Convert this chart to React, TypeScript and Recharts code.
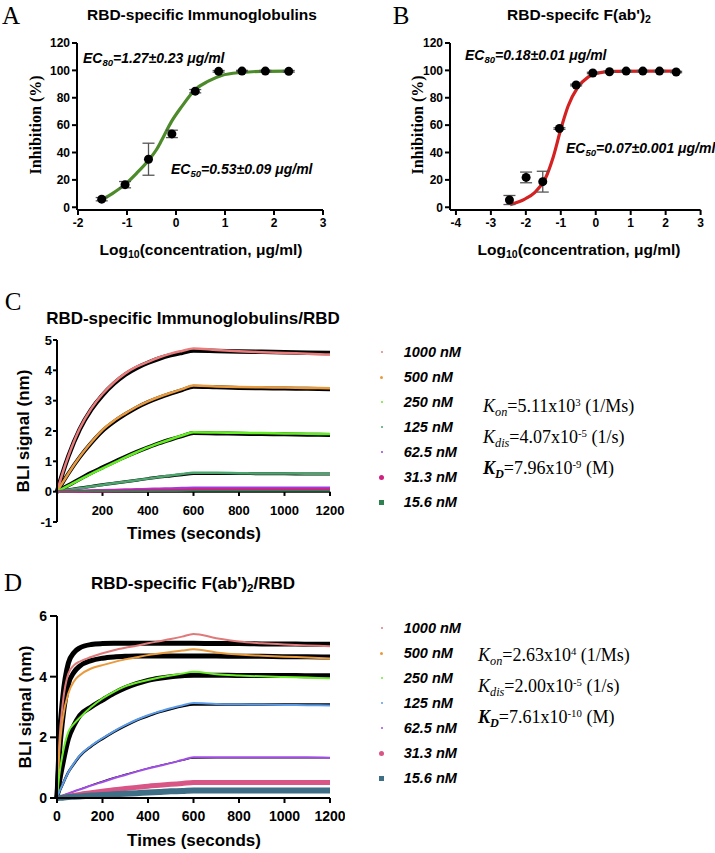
import React from 'react';
import { ComposedChart, LineChart, Line, Scatter, XAxis, YAxis, ErrorBar, ReferenceLine } from 'recharts';

const SANS = 'Arial, "Liberation Sans", Helvetica, sans-serif';
const SERIF = '"Times New Roman", "Liberation Serif", serif';

// ---------- Panel A: RBD-specific Immunoglobulins ----------
const logConcA = [-1.516, -1.039, -0.561, -0.084, 0.393, 0.87, 1.347, 1.824, 2.301];
const inhibA = [5.9, 16.5, 35.1, 53.6, 84.8, 99.3, 99.5, 99.5, 99.3];
const errA = [1.2, 2.3, 11.7, 2.7, 1.2, 0.6, 0.5, 0.5, 0.6];
const fitXA = [-1.52, -1.3, -1.04, -0.8, -0.56, -0.4, -0.29, -0.09, 0.12, 0.39, 0.66, 0.93, 1.34, 1.75, 2.3];
const fitYA = [5.4, 10.0, 16.7, 25.0, 34.4, 42.0, 49.1, 62.7, 73.7, 86.0, 92.1, 96.3, 98.5, 99.3, 99.5];

// ---------- Panel B: RBD-specific F(ab')2 ----------
const logConcB = [-2.469, -1.993, -1.516, -1.039, -0.561, -0.084, 0.393, 0.87, 1.347, 1.824, 2.301];
const inhibB = [5.3, 21.8, 18.7, 57.5, 89.3, 98.1, 99.0, 99.5, 99.5, 99.5, 98.8];
const errB = [3.3, 3.9, 7.6, 0.6, 0.6, 0.5, 0.4, 0.4, 0.4, 0.4, 0.5];
const fitXB = [-2.45, -2.2, -2.03, -1.74, -1.45, -1.22, -1.0, -0.79, -0.52, -0.22, 0.0, 0.55, 1.5, 2.3];
const fitYB = [1.9, 4.0, 6.0, 10.9, 20.6, 36.4, 57.0, 74.0, 87.4, 95.1, 97.8, 99.3, 99.5, 99.5];

const xTicksA = [-2, -1, 0, 1, 2, 3];
const xTicksB = [-4, -3, -2, -1, 0, 1, 2, 3];
const yTicksInhib = [0, 20, 40, 60, 80, 100, 120];

// ---------- Panel C: BLI, Immunoglobulins/RBD ----------
const timesC = [0, 25, 50, 100, 150, 200, 250, 300, 350, 400, 450, 500, 550, 600, 700, 800, 900, 1000, 1100, 1200];
const C1000 = [0, 0.62, 1.17, 2.08, 2.73, 3.22, 3.6, 3.9, 4.12, 4.28, 4.43, 4.55, 4.64, 4.72, 4.67, 4.63, 4.6, 4.57, 4.55, 4.52];
const C1000fit = [0, 0.62, 1.17, 2.06, 2.7, 3.18, 3.56, 3.86, 4.08, 4.25, 4.39, 4.5, 4.58, 4.65, 4.64, 4.62, 4.61, 4.6, 4.58, 4.57];
const C500 = [0, 0.3, 0.6, 1.15, 1.62, 2.04, 2.34, 2.58, 2.8, 2.98, 3.13, 3.26, 3.38, 3.5, 3.47, 3.45, 3.44, 3.43, 3.42, 3.41];
const C500fit = [0, 0.3, 0.6, 1.14, 1.6, 2.0, 2.3, 2.55, 2.77, 2.95, 3.1, 3.23, 3.35, 3.46, 3.44, 3.42, 3.41, 3.4, 3.39, 3.38];
const C250 = [0, 0.1, 0.2, 0.4, 0.59, 0.77, 0.95, 1.13, 1.3, 1.46, 1.6, 1.73, 1.85, 1.96, 1.95, 1.94, 1.93, 1.92, 1.91, 1.9];
const C250fit = [0, 0.11, 0.21, 0.42, 0.62, 0.8, 0.98, 1.15, 1.31, 1.46, 1.6, 1.72, 1.83, 1.93, 1.92, 1.91, 1.9, 1.89, 1.88, 1.87];
const C125 = [0, 0.03, 0.06, 0.11, 0.17, 0.22, 0.28, 0.33, 0.38, 0.43, 0.48, 0.53, 0.58, 0.62, 0.62, 0.61, 0.6, 0.6, 0.59, 0.59];
const C125fit = [0, 0.03, 0.06, 0.12, 0.17, 0.23, 0.28, 0.33, 0.38, 0.43, 0.48, 0.52, 0.56, 0.6, 0.6, 0.6, 0.59, 0.59, 0.58, 0.58];
const C62 = [0, 0.01, 0.01, 0.02, 0.03, 0.04, 0.05, 0.06, 0.07, 0.08, 0.09, 0.1, 0.11, 0.12, 0.12, 0.12, 0.12, 0.12, 0.12, 0.12];
const C31 = [0, 0.005, 0.01, 0.01, 0.02, 0.02, 0.03, 0.03, 0.04, 0.04, 0.05, 0.05, 0.05, 0.06, 0.06, 0.06, 0.06, 0.06, 0.06, 0.06];
const C15 = [0, 0, 0, 0.01, 0.01, 0.01, 0.01, 0.02, 0.02, 0.02, 0.02, 0.02, 0.03, 0.03, 0.03, 0.03, 0.03, 0.03, 0.03, 0.03];

// ---------- Panel D: BLI, F(ab')2/RBD ----------
const timesD = [0, 10, 25, 50, 75, 100, 150, 200, 250, 300, 350, 400, 450, 500, 550, 600, 700, 800, 900, 1000, 1100, 1200];
const D1000 = [0, 1.8, 3.1, 4.1, 4.38, 4.5, 4.65, 4.77, 4.87, 4.95, 5.02, 5.1, 5.17, 5.24, 5.32, 5.41, 5.27, 5.16, 5.1, 5.06, 5.03, 5.0];
const D1000fit = [0, 1.9, 3.3, 4.45, 4.8, 4.95, 5.06, 5.09, 5.1, 5.1, 5.1, 5.1, 5.1, 5.1, 5.1, 5.1, 5.09, 5.09, 5.08, 5.08, 5.07, 5.07];
const D500 = [0, 1.5, 2.6, 3.45, 3.85, 4.05, 4.27, 4.38, 4.48, 4.57, 4.64, 4.71, 4.76, 4.81, 4.86, 4.9, 4.8, 4.73, 4.69, 4.66, 4.63, 4.6];
const D500fit = [0, 1.4, 2.6, 3.75, 4.15, 4.35, 4.53, 4.61, 4.65, 4.67, 4.68, 4.68, 4.68, 4.68, 4.68, 4.68, 4.68, 4.67, 4.67, 4.66, 4.66, 4.65];
const D250 = [0, 0.75, 1.45, 2.18, 2.45, 2.65, 3.0, 3.28, 3.5, 3.68, 3.8, 3.89, 3.97, 4.04, 4.1, 4.16, 4.08, 4.04, 4.01, 3.99, 3.97, 3.95];
const D250fit = [0, 0.5, 1.1, 1.95, 2.4, 2.72, 3.0, 3.23, 3.45, 3.63, 3.77, 3.88, 3.95, 4.0, 4.03, 4.05, 4.05, 4.04, 4.04, 4.04, 4.03, 4.03];
const D125 = [0, 0.2, 0.45, 0.85, 1.15, 1.4, 1.72, 1.97, 2.2, 2.4, 2.58, 2.73, 2.85, 2.96, 3.05, 3.13, 3.1, 3.09, 3.08, 3.07, 3.06, 3.05];
const D125fit = [0, 0.2, 0.45, 0.85, 1.13, 1.38, 1.7, 1.95, 2.18, 2.38, 2.56, 2.7, 2.83, 2.93, 3.02, 3.08, 3.08, 3.08, 3.08, 3.08, 3.08, 3.08];
const D62 = [0, 0.03, 0.08, 0.15, 0.22, 0.28, 0.41, 0.53, 0.65, 0.76, 0.87, 0.97, 1.06, 1.15, 1.25, 1.34, 1.34, 1.34, 1.34, 1.34, 1.34, 1.33];
const D62fit = [0, 0.03, 0.08, 0.15, 0.22, 0.29, 0.42, 0.55, 0.67, 0.78, 0.88, 0.98, 1.07, 1.16, 1.24, 1.31, 1.32, 1.32, 1.32, 1.32, 1.32, 1.32];
const D31 = [0, 0.01, 0.03, 0.06, 0.09, 0.12, 0.17, 0.22, 0.27, 0.31, 0.35, 0.39, 0.42, 0.45, 0.48, 0.51, 0.51, 0.51, 0.51, 0.51, 0.51, 0.51];
const D15 = [0, 0.005, 0.01, 0.03, 0.04, 0.05, 0.08, 0.1, 0.12, 0.14, 0.16, 0.18, 0.2, 0.22, 0.23, 0.25, 0.25, 0.25, 0.25, 0.25, 0.25, 0.25];

const concLabels = ['1000 nM', '500 nM', '250 nM', '125 nM', '62.5 nM', '31.3 nM', '15.6 nM'];
const colorsC = ['#e97c7c', '#e89a40', '#62ee22', '#4aa66c', '#9a40e0', '#d0207f', '#2f8150'];
const colorsD = ['#e07a7a', '#e89a3c', '#6cee2c', '#5b9be8', '#a04ee6', '#d85585', '#3e6f87'];
const xTicksC = [200, 400, 600, 800, 1000, 1200];
const yTicksC = [-1, 0, 1, 2, 3, 4, 5];
const xTicksD = [0, 200, 400, 600, 800, 1000, 1200];
const yTicksD = [0, 2, 4, 6];

// ---------- build tables ----------
const pointsA = logConcA.map((x, i) => ({ x, y: inhibA[i], err: errA[i] }));
const curveA = fitXA.map((x, i) => ({ x, y: fitYA[i] }));
const pointsB = logConcB.map((x, i) => ({ x, y: inhibB[i], err: errB[i] }));
const curveB = fitXB.map((x, i) => ({ x, y: fitYB[i] }));

const rawC = [C1000, C500, C250, C125, C62, C31, C15];
const fitC = [C1000fit, C500fit, C250fit, C125fit];
const rowsC = timesC.map((t, i) => {
  const r: any = { t };
  rawC.forEach((s, k) => (r['r' + k] = s[i]));
  fitC.forEach((s, k) => (r['f' + k] = s[i]));
  return r;
});
const rawD = [D1000, D500, D250, D125, D62, D31, D15];
const fitD = [D1000fit, D500fit, D250fit, D125fit, D62fit];
const rowsD = timesD.map((t, i) => {
  const r: any = { t };
  rawD.forEach((s, k) => (r['r' + k] = s[i]));
  fitD.forEach((s, k) => (r['f' + k] = s[i]));
  return r;
});

const rawWidthC = [2.5, 2.5, 2.5, 2.5, 3, 3, 1.5];
const fitWidthC = [4.5, 4, 4, 3];
const rawWidthD = [2, 2, 2, 2, 2, 5, 6];
const fitWidthD = [5, 5, 5, 2.5, 1.2];

// ---------- helpers ----------
const Txt = ({ x, y, children, style, align = 'center', rotate = 0 }: any) => (
  <div
    style={{
      position: 'absolute',
      left: x,
      top: y,
      transform: `translate(${align === 'center' ? '-50%' : '0'}, -50%) rotate(${rotate}deg)`,
      whiteSpace: 'nowrap',
      lineHeight: 1,
      color: '#000',
      ...style,
    }}
  >
    {children}
  </div>
);

const Sub = ({ children }: any) => (
  <span style={{ fontSize: '0.68em', verticalAlign: '-0.3em', lineHeight: 0 }}>{children}</span>
);
const Sup = ({ children }: any) => (
  <span style={{ fontSize: '0.6em', verticalAlign: '0.55em', lineHeight: 0 }}>{children}</span>
);

const axisStroke = { stroke: '#000', strokeWidth: 2 };
const tickFont = (size: number) => ({ fill: '#000', fontSize: size, fontWeight: 700, fontFamily: SANS });

const Dot = (props: any) => <circle cx={props.cx} cy={props.cy} r={4.5} fill="#000" />;

const titleStyle = (size: number) => ({ fontFamily: SANS, fontWeight: 700, fontSize: size });
const ecStyle = { fontFamily: SANS, fontWeight: 700, fontStyle: 'italic', fontSize: 14 };
const letterStyle = { fontFamily: SERIF, fontSize: 25 };
const legendStyle = { fontFamily: SANS, fontWeight: 700, fontStyle: 'italic', fontSize: 14.5 };
const kinStyle = { fontFamily: SERIF, fontSize: 18 };

const markerShape = ['dot', 'dot', 'dot', 'dot', 'dot', 'circle', 'square'];
const markerSize = [2, 3, 2, 2, 2, 5, 5];

const LegendBlock = ({ x, y0, colors }: any) => (
  <>
    {concLabels.map((lab, i) => (
      <React.Fragment key={lab}>
        <div
          style={{
            position: 'absolute',
            left: x - markerSize[i] / 2,
            top: y0 + i * 25 - markerSize[i] / 2,
            width: markerSize[i],
            height: markerSize[i],
            background: colors[i],
            borderRadius: markerShape[i] === 'square' ? 0 : '50%',
          }}
        />
        <Txt x={x + 22} y={y0 + i * 25} align="left" style={legendStyle}>
          {lab}
        </Txt>
      </React.Fragment>
    ))}
  </>
);

const RaisedTick = (props: any) => {
  const { x, y, payload } = props;
  return (
    <text x={x} y={y - 7.5} textAnchor="middle" fill="#000" fontSize={13} fontWeight={700} fontFamily={SANS}>
      {payload.value}
    </text>
  );
};

const DoseChart = ({ points, curve, color, domain, ticks, left, right, width }: any) => (
  <ComposedChart width={width} height={240} margin={{ top: 43, right, bottom: 0, left }}>
    <XAxis
      type="number"
      dataKey="x"
      domain={domain}
      ticks={ticks}
      allowDataOverflow
      height={30}
      axisLine={axisStroke}
      tickLine={axisStroke}
      tickSize={5}
      tickMargin={3}
      tick={tickFont(12)}
      interval={0}
    />
    <YAxis
      type="number"
      dataKey="y"
      domain={[-2, 120]}
      ticks={yTicksInhib}
      width={40}
      axisLine={axisStroke}
      tickLine={axisStroke}
      tickSize={5}
      tickMargin={2}
      tick={tickFont(12)}
      interval={0}
    />
    <Line data={curve} dataKey="y" type="monotone" stroke={color} strokeWidth={3.2} dot={false} isAnimationActive={false} />
    <Scatter data={points} dataKey="y" shape={Dot} isAnimationActive={false}>
      <ErrorBar dataKey="err" direction="y" width={6} stroke="#555" strokeWidth={1.3} />
    </Scatter>
  </ComposedChart>
);

export default function App() {
  return (
    <div style={{ position: 'absolute', left: 0, top: 0, width: 715, height: 853, background: '#fff', overflow: 'hidden' }}>
      {/* Panel A */}
      <div style={{ position: 'absolute', left: 0, top: 0 }}>
        <DoseChart points={pointsA} curve={curveA} color="#4c8a2a" domain={[-2.02, 3]} ticks={xTicksA} left={37} right={17} width={340} />
      </div>
      <Txt x={11} y={15} style={letterStyle}>A</Txt>
      <Txt x={202} y={15} style={titleStyle(15.5)}>RBD-specific Immunoglobulins</Txt>
      <Txt x={36} y={125} rotate={-90} style={{ fontFamily: SERIF, fontWeight: 700, fontSize: 16 }}>Inhibition (%)</Txt>
      <Txt x={201} y={250} style={titleStyle(15.5)}>Log<Sub>10</Sub>(concentration, μg/ml)</Txt>
      <Txt x={83} y={58} align="left" style={ecStyle}>EC<Sub>80</Sub>=1.27±0.23 μg/ml</Txt>
      <Txt x={171} y={169} align="left" style={ecStyle}>EC<Sub>50</Sub>=0.53±0.09 μg/ml</Txt>

      {/* Panel B */}
      <div style={{ position: 'absolute', left: 355, top: 0 }}>
        <DoseChart points={pointsB} curve={curveB} color="#d42222" domain={[-4.17, 3]} ticks={xTicksB} left={55} right={14.4} width={360} />
      </div>
      <Txt x={401} y={15} style={letterStyle}>B</Txt>
      <Txt x={579} y={15} style={titleStyle(15.5)}>RBD-specifc F(ab')<Sub>2</Sub></Txt>
      <Txt x={418} y={125} rotate={-90} style={{ fontFamily: SERIF, fontWeight: 700, fontSize: 16 }}>Inhibition (%)</Txt>
      <Txt x={579} y={250} style={titleStyle(15.5)}>Log<Sub>10</Sub>(concentration, μg/ml)</Txt>
      <Txt x={465} y={55} align="left" style={ecStyle}>EC<Sub>80</Sub>=0.18±0.01 μg/ml</Txt>
      <Txt x={566} y={148} align="left" style={ecStyle}>EC<Sub>50</Sub>=0.07±0.001 μg/ml</Txt>

      {/* Panel C */}
      <div style={{ position: 'absolute', left: 0, top: 290 }}>
        <LineChart width={345} height={262} data={rowsC} margin={{ top: 50, right: 15, bottom: 0, left: 17 }}>
          <XAxis
            type="number"
            dataKey="t"
            domain={[0, 1200]}
            ticks={xTicksC}
            height={30}
            axisLine={false}
            tickLine={false}
            tickSize={0}
            tickMargin={0}
            tick={<RaisedTick />}
            interval={0}
          />
          <YAxis
            type="number"
            domain={[-1, 5]}
            ticks={yTicksC}
            width={40}
            axisLine={axisStroke}
            tickLine={axisStroke}
            tickSize={4}
            tickMargin={1}
            tick={tickFont(13)}
            interval={0}
          />
          <ReferenceLine y={0} stroke="#000" strokeWidth={2} />
          {xTicksC.map((t) => (
            <ReferenceLine key={t} segment={[{ x: t, y: 0 }, { x: t, y: -0.14 }]} stroke="#000" strokeWidth={2} />
          ))}
          {fitC.map((_, k) => (
            <Line key={'f' + k} dataKey={'f' + k} type="monotone" stroke="#000" strokeWidth={fitWidthC[k]} dot={false} isAnimationActive={false} />
          ))}
          {rawC.map((_, k) => (
            <Line key={'r' + k} dataKey={'r' + k} type="monotone" stroke={colorsC[k]} strokeWidth={rawWidthC[k]} dot={false} isAnimationActive={false} />
          ))}
        </LineChart>
      </div>
      <Txt x={13} y={301} style={letterStyle}>C</Txt>
      <Txt x={193} y={318} style={titleStyle(17)}>RBD-specific Immunoglobulins/RBD</Txt>
      <Txt x={23} y={431} rotate={-90} style={titleStyle(17)}>BLI signal (nm)</Txt>
      <Txt x={194} y={533} style={titleStyle(17)}>Times (seconds)</Txt>
      <LegendBlock x={381.7} y0={352.3} colors={colorsC} />
      <Txt x={483} y={406} align="left" style={kinStyle}>
        <i>K</i><Sub><i>on</i></Sub>=5.11x10<Sup>3</Sup> (1/Ms)
      </Txt>
      <Txt x={483} y={437} align="left" style={kinStyle}>
        <i>K</i><Sub><i>dis</i></Sub>=4.07x10<Sup>-5</Sup> (1/s)
      </Txt>
      <Txt x={483} y={468} align="left" style={kinStyle}>
        <b><i>K</i></b><Sub><b><i>D</i></b></Sub>=7.96x10<Sup>-9</Sup> (M)
      </Txt>

      {/* Panel D */}
      <div style={{ position: 'absolute', left: 0, top: 560 }}>
        <LineChart width={345} height={268} data={rowsD} margin={{ top: 56, right: 15, bottom: 0, left: 17 }}>
          <XAxis
            type="number"
            dataKey="t"
            domain={[0, 1200]}
            ticks={xTicksD}
            height={30}
            axisLine={axisStroke}
            tickLine={axisStroke}
            tickSize={5}
            tickMargin={8}
            tick={tickFont(14)}
            interval={0}
          />
          <YAxis
            type="number"
            domain={[0, 6]}
            ticks={yTicksD}
            width={40}
            axisLine={axisStroke}
            tickLine={axisStroke}
            tickSize={7}
            tickMargin={3}
            tick={tickFont(14)}
            interval={0}
          />
          {fitD.map((_, k) => (
            <Line key={'f' + k} dataKey={'f' + k} type="monotone" stroke="#000" strokeWidth={fitWidthD[k]} dot={false} isAnimationActive={false} />
          ))}
          {rawD.map((_, k) => (
            <Line key={'r' + k} dataKey={'r' + k} type="monotone" stroke={colorsD[k]} strokeWidth={rawWidthD[k]} dot={false} isAnimationActive={false} />
          ))}
        </LineChart>
      </div>
      <Txt x={13} y={582} style={letterStyle}>D</Txt>
      <Txt x={193} y={583} style={titleStyle(17)}>RBD-specific F(ab')<Sub>2</Sub>/RBD</Txt>
      <Txt x={25} y={707} rotate={-90} style={titleStyle(17)}>BLI signal (nm)</Txt>
      <Txt x={194} y={840} style={titleStyle(17)}>Times (seconds)</Txt>
      <LegendBlock x={381.7} y0={628.3} colors={colorsD} />
      <Txt x={478} y={655} align="left" style={kinStyle}>
        <i>K</i><Sub><i>on</i></Sub>=2.63x10<Sup>4</Sup> (1/Ms)
      </Txt>
      <Txt x={478} y={686} align="left" style={kinStyle}>
        <i>K</i><Sub><i>dis</i></Sub>=2.00x10<Sup>-5</Sup> (1/s)
      </Txt>
      <Txt x={478} y={717} align="left" style={kinStyle}>
        <b><i>K</i></b><Sub><b><i>D</i></b></Sub>=7.61x10<Sup>-10</Sup> (M)
      </Txt>
    </div>
  );
}
